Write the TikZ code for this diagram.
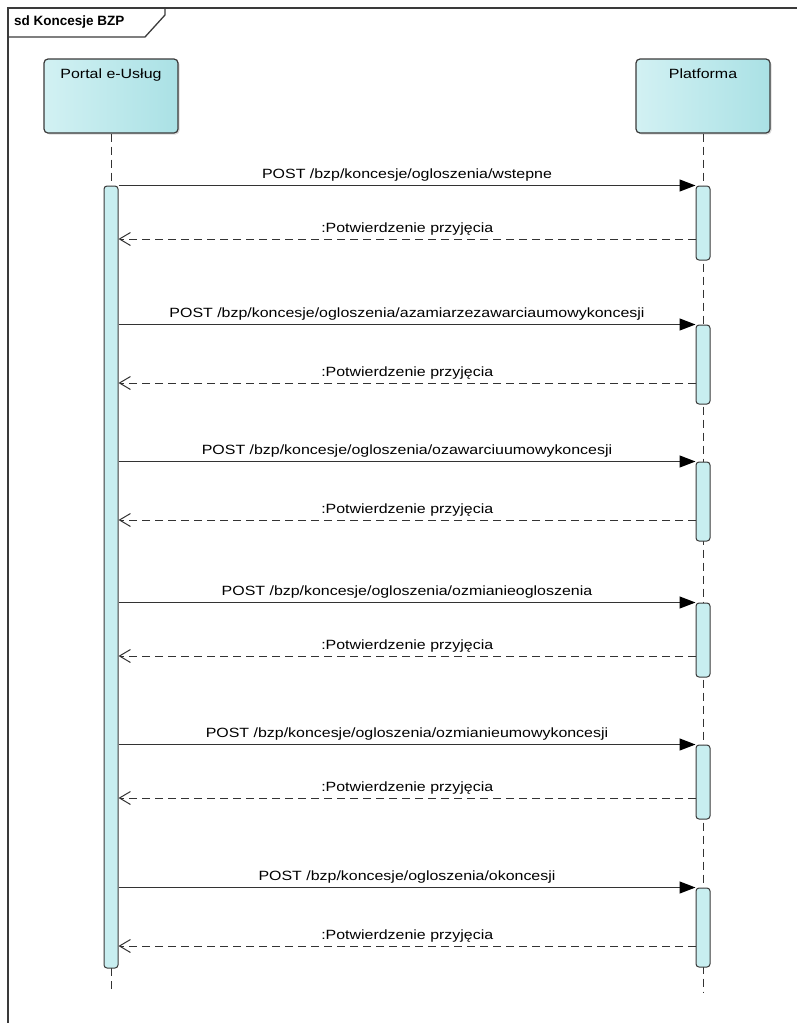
\documentclass[tikz,border=0pt]{standalone}
\usepackage{fontspec}
\setmainfont{Liberation Sans}
\newfontfamily\diagfont[FakeStretch=1.19]{Liberation Sans}
\usetikzlibrary{arrows.meta,shadows,calc}
\definecolor{lifeL}{HTML}{D2F1F3}
\definecolor{lifeR}{HTML}{AAE1E5}
\definecolor{barfill}{HTML}{C8EEF0}
\definecolor{linecol}{HTML}{3A3A3A}
\begin{document}
\begin{tikzpicture}[x=1pt,y=-1pt,
  lifebox/.style={draw=linecol, line width=1.2pt, rounded corners=4pt, left color=lifeL, right color=lifeR,
    minimum width=134pt, minimum height=74pt, inner sep=0pt,
    drop shadow={shadow xshift=1.5pt, shadow yshift=-1.5pt, fill=black!30}},
  lifelabel/.style={font=\diagfont\fontsize{13.4}{15}\selectfont, anchor=north, inner sep=0pt},
  actbar/.style={draw=linecol, line width=1pt, rounded corners=3pt, fill=barfill, minimum width=14pt, inner sep=0pt},
  lifeline/.style={draw=black!80, line width=1pt, dash pattern=on 8pt off 5pt},
  callmsg/.style={draw=black!80, line width=1.2pt, -{Triangle[length=16pt,width=12pt,color=black,fill=black]}},
  retmsg/.style={draw=black!80, line width=1pt, dash pattern=on 8pt off 5pt, -{Straight Barb[length=11pt,width=13pt,line width=1pt]}},
  msglabel/.style={font=\diagfont\fontsize{13.4}{15}\selectfont, inner sep=0pt, above=3.5pt, midway}
]
\useasboundingbox (0,0) rectangle (797,1023);
% frame
\draw[linecol, line width=1.3pt] (8,1023) -- (8,8) -- (797,8);
\draw[linecol, line width=1.3pt] (8,37) -- (145,37) -- (165,15) -- (165,8);
\node[font=\bfseries\fontsize{13.5}{15}\selectfont, anchor=west, inner sep=0pt] (title) at (14,22) {sd Koncesje BZP};

% lifeline heads
\node[lifebox] (portal) at (111,96) {};
\node[lifelabel] (portaltxt) at ($(portal.north)+(0,10)$) {Portal e-Usług};
\node[lifebox] (plat) at (703,96) {};
\node[lifelabel] (plattxt) at ($(plat.north)+(0,10)$) {Platforma};

% ends of lifelines
\coordinate (pend) at (111,993);
\coordinate (qend) at (703,993);

% lifelines (drawn before bars)
\draw[lifeline] (portal.south) -- (111,186);
\draw[lifeline] (111,968) -- (pend);
\draw[lifeline] (plat.south) -- (qend);

% activation bars
\node[actbar, minimum height=782pt] (pb) at (111,577) {};
\node[actbar, minimum height=74pt] (q1) at (703,223) {};
\node[actbar, minimum height=79pt] (q2) at (703,364.5) {};
\node[actbar, minimum height=79pt] (q3) at (703,501.5) {};
\node[actbar, minimum height=74pt] (q4) at (703,640) {};
\node[actbar, minimum height=74pt] (q5) at (703,782) {};
\node[actbar, minimum height=79pt] (q6) at (703,927.5) {};

% return points
\coordinate (r1) at (696,239);
\coordinate (r2) at (696,383);
\coordinate (r3) at (696,520);
\coordinate (r4) at (696,656);
\coordinate (r5) at (696,798);
\coordinate (r6) at (696,946);

% messages
\draw[callmsg] (pb.east |- q1.north) -- (q1.north west) node[msglabel] {POST /bzp/koncesje/ogloszenia/wstepne};
\draw[retmsg] (r1) -- (pb.east |- r1) node[msglabel] {:Potwierdzenie przyjęcia};

\draw[callmsg] (pb.east |- q2.north) -- (q2.north west) node[msglabel] {POST /bzp/koncesje/ogloszenia/azamiarzezawarciaumowykoncesji};
\draw[retmsg] (r2) -- (pb.east |- r2) node[msglabel] {:Potwierdzenie przyjęcia};

\draw[callmsg] (pb.east |- q3.north) -- (q3.north west) node[msglabel] {POST /bzp/koncesje/ogloszenia/ozawarciuumowykoncesji};
\draw[retmsg] (r3) -- (pb.east |- r3) node[msglabel] {:Potwierdzenie przyjęcia};

\draw[callmsg] (pb.east |- q4.north) -- (q4.north west) node[msglabel] {POST /bzp/koncesje/ogloszenia/ozmianieogloszenia};
\draw[retmsg] (r4) -- (pb.east |- r4) node[msglabel] {:Potwierdzenie przyjęcia};

\draw[callmsg] (pb.east |- q5.north) -- (q5.north west) node[msglabel] {POST /bzp/koncesje/ogloszenia/ozmianieumowykoncesji};
\draw[retmsg] (r5) -- (pb.east |- r5) node[msglabel] {:Potwierdzenie przyjęcia};

\draw[callmsg] (pb.east |- q6.north) -- (q6.north west) node[msglabel] {POST /bzp/koncesje/ogloszenia/okoncesji};
\draw[retmsg] (r6) -- (pb.east |- r6) node[msglabel] {:Potwierdzenie przyjęcia};
\end{tikzpicture}
\end{document}
